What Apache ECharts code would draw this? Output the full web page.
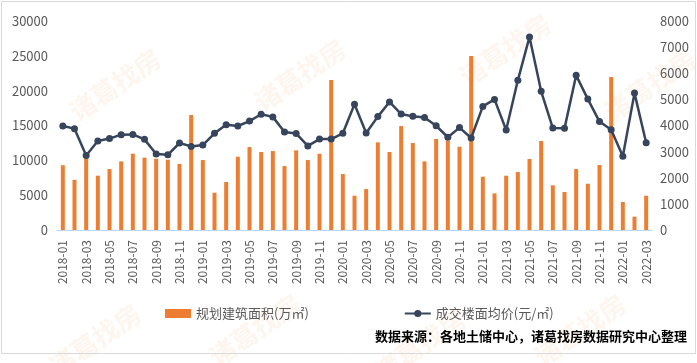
<!DOCTYPE html>
<html><head><meta charset="utf-8">
<script src="https://cdn.jsdelivr.net/npm/echarts@6/dist/echarts.min.js"></script>
<style>html,body{margin:0;padding:0;background:#fff}#c{width:697px;height:363px}</style>
</head><body><div id="c"></div>
<script>
const months = [];
for (let y = 2018; y <= 2022; y++) for (let m = 1; m <= 12; m++) { if (y === 2022 && m > 3) break; months.push(y + '-' + String(m).padStart(2, '0')); }
const areaValues = [9300,7200,10300,7800,8750,9850,10950,10380,10230,10090,
  9470,16500,10040,5350,6890,10520,11900,11190,11330,9180,
  11430,10040,10950,21520,8030,4920,5880,12580,11190,14920,
  12480,9850,13060,12810,11950,24960,7650,5260,7790,8320,
  10190,12770,6410,5450,8750,6640,9330,21950,4020,1910,4920];
const priceValues = [3980,3880,2850,3410,3500,3650,3660,3470,2910,2880,
  3330,3200,3250,3700,4030,3980,4170,4430,4330,3750,
  3690,3220,3480,3480,3700,4810,3710,4340,4900,4440,
  4350,4310,3990,3550,3920,3520,4730,5000,3830,5730,
  7390,5310,3900,3890,5920,5010,4150,3840,2820,5240,3340];
const leftTicks = [0, 30000, 5000];
const rightTicks = [0, 8000, 1000];
const seriesNames = ['规划建筑面积(万㎡)', '成交楼面均价(元/㎡)'];
const sourceText = '数据来源：各地土储中心，诸葛找房数据研究中心整理';
const watermark = '诸葛找房';

const chart = echarts.init(document.getElementById('c'));
const wmPos = [[115,85],[300,75],[505,50],[650,85],[95,340],[255,330],[420,345],[580,330]];
const graphics = wmPos.map(p => ({
  type: 'text', x: p[0], y: p[1], rotation: 0.6, z: 0,
  style: { text: watermark, font: 'bold 26px "Noto Sans CJK SC"', fill: 'rgba(245,160,90,0.10)', textAlign: 'center', textVerticalAlign: 'middle' }
}));
graphics.push({ type: 'rect', shape: { x: 1.5, y: 1.5, width: 694, height: 352 }, style: { fill: 'none', stroke: '#d9d9d9', lineWidth: 1 }, z: 0 });
graphics.push({ type: 'text', right: 10, top: 330, style: { text: sourceText, font: '600 13px "Noto Sans CJK SC"', fill: '#000' }, z: 10 });

const plain = v => String(v);
chart.setOption({
  animation: false,
  textStyle: { fontFamily: '"Noto Sans CJK SC", sans-serif' },
  grid: { left: 57, right: 45, top: 21, bottom: 133 },
  legend: {
    left: 160, top: 302, itemGap: 95, itemWidth: 26, itemHeight: 9,
    textStyle: { fontSize: 13, color: '#595959' },
    data: [{ name: seriesNames[0], icon: 'rect' }, { name: seriesNames[1] }]
  },
  xAxis: {
    type: 'category', data: months,
    axisLine: { lineStyle: { color: '#BDD7EE' } },
    axisTick: { show: false },
    axisLabel: { rotate: 90, interval: 1, fontSize: 12, color: '#595959', margin: 10 }
  },
  yAxis: [
    { type: 'value', min: leftTicks[0], max: leftTicks[1], interval: leftTicks[2],
      splitLine: { show: false }, axisLine: { show: false }, axisTick: { show: false },
      axisLabel: { fontSize: 13, color: '#595959', margin: 9, formatter: plain } },
    { type: 'value', min: rightTicks[0], max: rightTicks[1], interval: rightTicks[2],
      splitLine: { show: false }, axisLine: { show: false }, axisTick: { show: false },
      axisLabel: { fontSize: 13, color: '#595959', margin: 8, formatter: plain } }
  ],
  series: [
    { name: seriesNames[0], type: 'bar', data: areaValues, barWidth: 4, itemStyle: { color: '#ED7D31' } },
    { name: seriesNames[1], type: 'line', yAxisIndex: 1, data: priceValues, symbol: 'circle', symbolSize: 7,
      lineStyle: { color: '#37455C', width: 2.5 }, itemStyle: { color: '#37455C' } }
  ],
  graphic: graphics
});
</script></body></html>
